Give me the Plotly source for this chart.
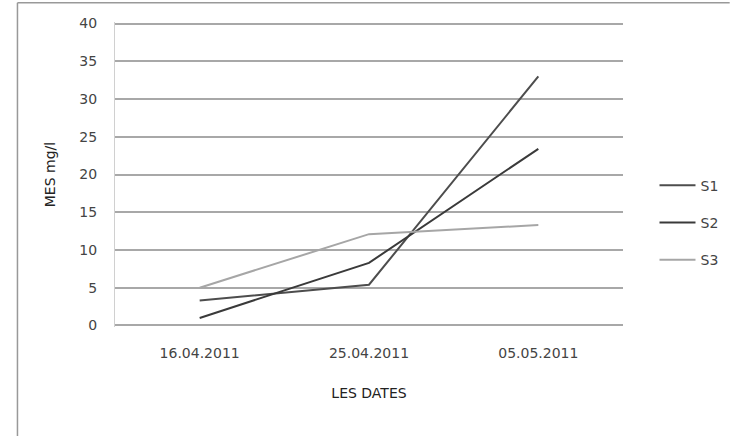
import plotly.graph_objects as go

# Sampling dates and suspended-matter concentrations (mg/l) per station
dates = ["16.04.2011", "25.04.2011", "05.05.2011"]
s1 = [3.3, 5.4, 33.0]
s2 = [1.0, 8.3, 23.4]
s3 = [5.0, 12.1, 13.3]
y_ticks = [0, 5, 10, 15, 20, 25, 30, 35, 40]

series = [("S1", s1, "#4d4d4d"), ("S2", s2, "#3a3a3a"), ("S3", s3, "#a6a6a6")]

fig = go.Figure()
for name, vals, color in series:
    fig.add_trace(go.Scatter(
        x=dates, y=vals, name=name, mode="lines",
        line=dict(color=color, width=2),
        legendgroup=name,
    ))

font_family = "DejaVu Sans, Liberation Sans"
grid_color = "#a8a8a8"

fig.update_layout(
    width=735, height=436,
    margin=dict(l=115, r=110, t=22, b=109),
    paper_bgcolor="white", plot_bgcolor="white",
    font=dict(family=font_family, size=14, color="#333333"),
    showlegend=True,
    legend=dict(
        x=1.062, y=0.342, xanchor="left", yanchor="middle",
        tracegroupgap=16, itemwidth=36,
        font=dict(size=14, color="#444444"),
        bgcolor="rgba(0,0,0,0)",
    ),
    xaxis=dict(
        type="category", range=[-0.5, 2.5],
        showgrid=False, zeroline=False,
        showline=False, ticks="", ticklabelstandoff=16,
        tickfont=dict(size=14, color="#444444"),
        title=dict(text="LES DATES", font=dict(size=14, color="#222222"), standoff=28),
    ),
    yaxis=dict(
        range=[-0.2, 40.2], tickvals=y_ticks, showgrid=True,
        gridcolor=grid_color, gridwidth=1.5,
        zeroline=True, zerolinecolor=grid_color, zerolinewidth=1.5,
        showline=True, linecolor="#d0d0d0", linewidth=1,
        ticks="", ticklabelstandoff=14,
        tickfont=dict(size=14, color="#444444"),
        title=dict(text="MES mg/l", font=dict(size=14, color="#222222"), standoff=20),
    ),
)

# Chart-area frame (left and top edges)
fig.add_shape(type="line", xref="paper", yref="paper",
              x0=-0.192, x1=-0.192, y0=1.063, y1=-0.37,
              line=dict(color="#999999", width=1.5))
fig.add_shape(type="line", xref="paper", yref="paper",
              x0=-0.192, x1=1.21, y0=1.063, y1=1.063,
              line=dict(color="#999999", width=1.5))

fig.write_html("out.html")
